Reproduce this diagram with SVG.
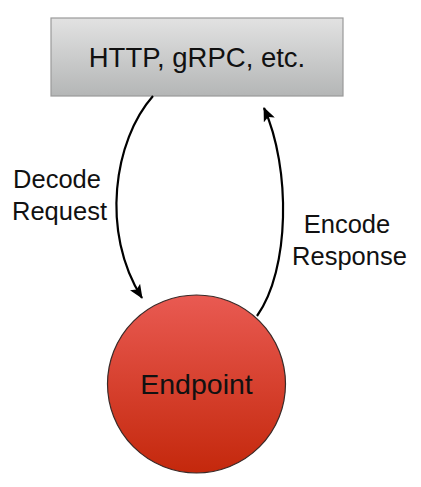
<svg xmlns="http://www.w3.org/2000/svg" width="421" height="487" viewBox="0 0 421 487">
  <defs>
    <linearGradient id="boxGrad" x1="0" y1="0" x2="0" y2="1">
      <stop offset="0" stop-color="#e2e2e2"/>
      <stop offset="1" stop-color="#b4b6b6"/>
    </linearGradient>
    <linearGradient id="circGrad" x1="0" y1="0" x2="0" y2="1">
      <stop offset="0" stop-color="#e95a52"/>
      <stop offset="1" stop-color="#c4280c"/>
    </linearGradient>
    <marker id="arrow" markerWidth="14" markerHeight="12" refX="13" refY="6" orient="auto" markerUnits="userSpaceOnUse">
      <path d="M0,0 L14,6 L0,12 L3,6 Z" fill="#000"/>
    </marker>
  </defs>
  <style>
    .label { font-family: "Liberation Sans", Arial, sans-serif; fill: #111; text-anchor: middle; }
    .edge { fill: none; stroke: #000; stroke-width: 2.2; }
  </style>
  <rect width="421" height="487" fill="#fff"/>
  <g id="node-transport">
    <rect x="51" y="18" width="292" height="78" fill="url(#boxGrad)" stroke="#9a9a9a" stroke-width="1.2"/>
    <text class="label" x="197" y="67" font-size="27.5">HTTP, gRPC, etc.</text>
  </g>
  <g id="node-endpoint">
    <circle cx="196.5" cy="384" r="89" fill="url(#circGrad)" stroke="#3a2a28" stroke-width="1.2"/>
    <text class="label" x="196.5" y="394" font-size="28.5">Endpoint</text>
  </g>
  <g id="connectors">
    <path class="edge" d="M153,96 C114,140 100,232 142,298" marker-end="url(#arrow)"/>
    <path class="edge" d="M257,316 C290,270 291,168 264,108" marker-end="url(#arrow)"/>
  </g>
  <g id="labels">
    <text class="label" x="57" y="188" font-size="25.5">Decode</text>
    <text class="label" x="59.5" y="220" font-size="25.5">Request</text>
    <text class="label" x="347" y="233" font-size="25.5">Encode</text>
    <text class="label" x="349.5" y="265" font-size="25.5">Response</text>
  </g>
</svg>
